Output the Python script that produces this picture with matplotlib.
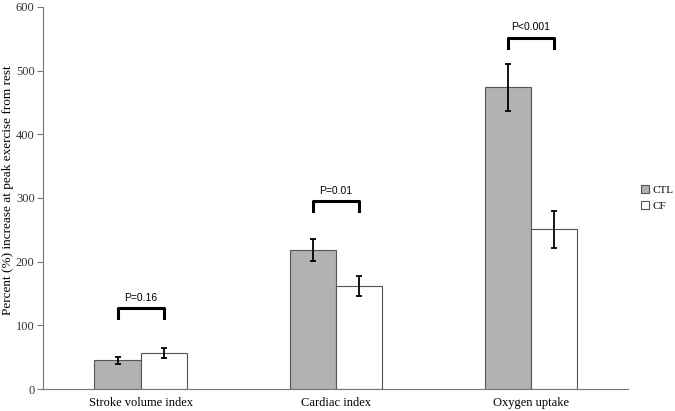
import numpy as np
import matplotlib.pyplot as plt

categories = ['Stroke volume index', 'Cardiac index', 'Oxygen uptake']
ctl = [45, 218, 474]
cf = [57, 162, 251]
ctl_err = [6, 17, 37]
cf_err = [8, 16, 29]
pvals = ['P=0.16', 'P=0.01', 'P<0.001']
bracket_y = [127, 295, 552]

plt.rcParams['font.family'] = ['Liberation Serif', 'DejaVu Serif']

fig = plt.figure(figsize=(6.75, 4.11), dpi=100)
ax = fig.add_axes([0.0637, 0.0535, 0.867, 0.9295])

x = np.arange(len(categories))
w = 0.236
ax.bar(x - w/2, ctl, w, color='#b2b2b2', edgecolor='#555555', linewidth=0.8, label='CTL')
ax.bar(x + w/2, cf, w, color='white', edgecolor='#555555', linewidth=0.8, label='CF')
ax.errorbar(x - w/2, ctl, yerr=ctl_err, fmt='none', ecolor='black', elinewidth=1.3, capsize=2.5, capthick=1.3)
ax.errorbar(x + w/2, cf, yerr=cf_err, fmt='none', ecolor='black', elinewidth=1.3, capsize=2.5, capthick=1.3)

for i in range(len(categories)):
    by = bracket_y[i]
    ax.plot([i - w/2, i - w/2, i + w/2, i + w/2], [by - 16, by, by, by - 16],
            color='black', lw=2.2, solid_joinstyle='round')
    ax.text(i, by + 8, pvals[i], ha='center', va='bottom', fontsize=7.5,
            family='Liberation Sans')

ax.set_xlim(-0.5, 2.5)
ax.set_ylim(0, 600)
ax.set_yticks(range(0, 601, 100))
ax.set_xticks(x)
ax.set_xticklabels(categories, fontsize=9)
ax.tick_params(axis='x', length=0, pad=6)
ax.tick_params(axis='y', length=4, width=0.8, color='#777777', labelsize=9, labelcolor='#333333', pad=2)
ax.set_ylabel('Percent (%) increase at peak exercise from rest', fontsize=9.5)
ax.yaxis.set_label_coords(-0.05, 0.52)
for s in ['top', 'right']:
    ax.spines[s].set_visible(False)
ax.spines['left'].set_color('#777777')
ax.spines['bottom'].set_color('#777777')

ax.legend(loc='center left', bbox_to_anchor=(1.005, 0.5), frameon=False, fontsize=8,
          handlelength=0.7, handleheight=0.7, handletextpad=0.3, labelspacing=0.5)

fig.savefig('out.png', dpi=100)
